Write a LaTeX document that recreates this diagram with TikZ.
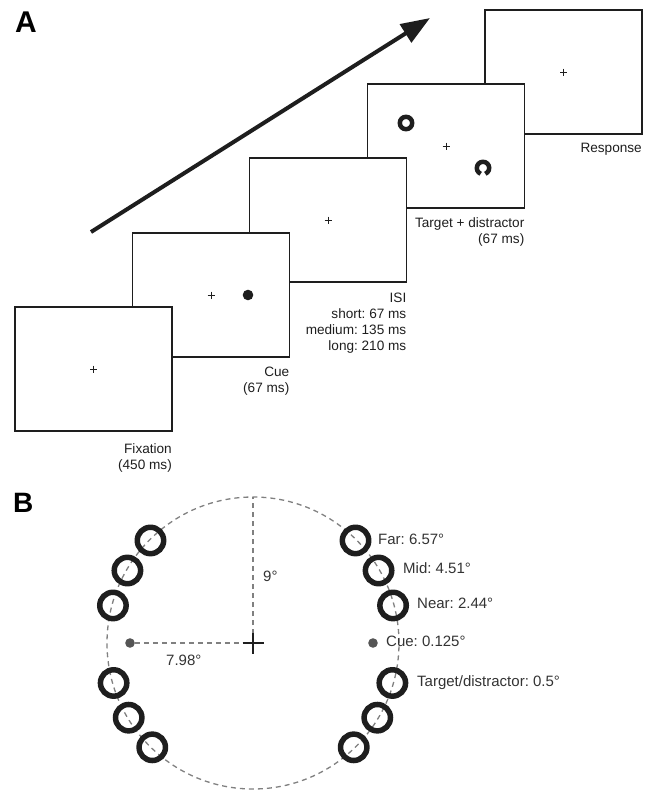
\documentclass[tikz,border=0pt]{standalone}
\usepackage{fontspec}
\setmainfont{Liberation Sans}
\usetikzlibrary{arrows.meta,calc}
\definecolor{ink}{HTML}{1E1E1E}
\definecolor{dashc}{HTML}{808080}
\definecolor{labc}{HTML}{333333}
\definecolor{dotc}{HTML}{555555}
\frenchspacing
\begin{document}
\begin{tikzpicture}[x=1pt,y=-1pt,
  screen/.style={draw=ink, line width=1.3pt, fill=white, minimum width=157pt, minimum height=124pt, inner sep=0pt, outer sep=0pt},
  fixcross/.style={draw=ink, line width=1pt},
  albl/.style={font=\fontsize{13.6}{16}\selectfont, text=ink, align=right, inner sep=0pt, anchor=north east},
  blbl/.style={font=\fontsize{15}{18}\selectfont, text=labc, inner sep=0pt, anchor=base west},
  panel/.style={font=\fontsize{30}{30}\selectfont\bfseries, inner sep=0pt, anchor=base west},
  ring/.style={circle, draw=ink, line width=5.5pt, minimum size=26.4pt, inner sep=0pt, outer sep=0pt},
  dashl/.style={draw=dashc, line width=1.3pt, dash pattern=on 5pt off 4pt},
  bdot/.style={circle, fill=dotc, minimum size=9.6pt, inner sep=0pt, outer sep=0pt},
  stim/.style={draw=ink, line width=4.5pt},
]
\useasboundingbox (0,0) rectangle (653,790);

% ---------- Panel A ----------
\node[panel] (pa) at (15,32) {A};

\coordinate (a0) at (91,232);
\coordinate (a1) at (430,18);
\draw[ink, line width=4pt, -{Triangle[length=29pt,width=21pt]}] (a0) -- (a1);

\node[screen] (resp) at (563.5,72) {};
\draw[fixcross] (resp.center) ++(-3.5,0) -- ++(7,0) (resp.center) ++(0,-3.5) -- ++(0,7);

\node[screen] (targ) at (446,146) {};
\draw[fixcross] (targ.center) ++(-3.5,0) -- ++(7,0) (targ.center) ++(0,-3.5) -- ++(0,7);
\draw[stim] ($(targ.center)+(-40,-23)$) circle[radius=6.2];
\draw[stim] ($(targ.center)+(37,22)$) ++(112:6.2) arc[start angle=112, end angle=428, radius=6.2];

\node[screen] (isi) at (328,220) {};
\draw[fixcross] (isi.center) ++(-3.5,0) -- ++(7,0) (isi.center) ++(0,-3.5) -- ++(0,7);

\node[screen] (cue) at (211,295) {};
\draw[fixcross] (cue.center) ++(-3.5,0) -- ++(7,0) (cue.center) ++(0,-3.5) -- ++(0,7);
\fill[ink] ($(cue.center)+(37,0)$) circle[radius=5.3];

\node[screen] (fix) at (93.5,369) {};
\draw[fixcross] (fix.center) ++(-3.5,0) -- ++(7,0) (fix.center) ++(0,-3.5) -- ++(0,7);

\node[albl] (resplab) at ($(resp.south east)+(0,9.3)$) {Response};
\node[albl] (targlab) at ($(targ.south east)+(0,9.7)$) {Target + distractor\\(67 ms)};
\node[albl] (isilab) at ($(isi.south east)+(0,10.7)$) {ISI\\short: 67 ms\\medium: 135 ms\\long: 210 ms};
\node[albl] (cuelab) at ($(cue.south east)+(0,10)$) {Cue\\(67 ms)};
\node[albl] (fixlab) at ($(fix.south east)+(0,12)$) {Fixation\\(450 ms)};

% ---------- Panel B ----------
\node[panel, font=\fontsize{28}{28}\selectfont\bfseries] (pb) at (13,512) {B};

\coordinate (bc) at (253,643);
\coordinate (btop) at (253,497);
\draw[dashl] (bc) circle[radius=146pt];
\draw[dashl] (bc) -- (btop);

\node[bdot] (dl) at (130,643) {};
\node[bdot] (dr) at (373,643) {};
\draw[dashl] (dl) -- (bc);

\foreach \a/\n in {-45/r1,-30/r2,-15/r3,16/r4,31/r5,46/r6,-135/l1,-150/l2,-165/l3,164/l4,149/l5,134/l6}
  \node[ring] (\n) at ($(bc)+(\a:145)$) {};

\draw[ink, line width=2.5pt] (bc) ++(-10.5,0) -- ++(21,0) (bc) ++(0,-10.5) -- ++(0,21);

\node[blbl] (t9) at (263,581.7) {9°};
\node[blbl] (t798) at (166,665) {7.98°};
\node[blbl] (tfar) at (378,544) {Far: 6.57°};
\node[blbl] (tmid) at (403,573.3) {Mid: 4.51°};
\node[blbl] (tnear) at (417,608.7) {Near: 2.44°};
\node[blbl] (tcue) at (386,646.7) {Cue: 0.125°};
\node[blbl] (ttd) at (417,686.7) {Target/distractor: 0.5°};
\end{tikzpicture}
\end{document}
